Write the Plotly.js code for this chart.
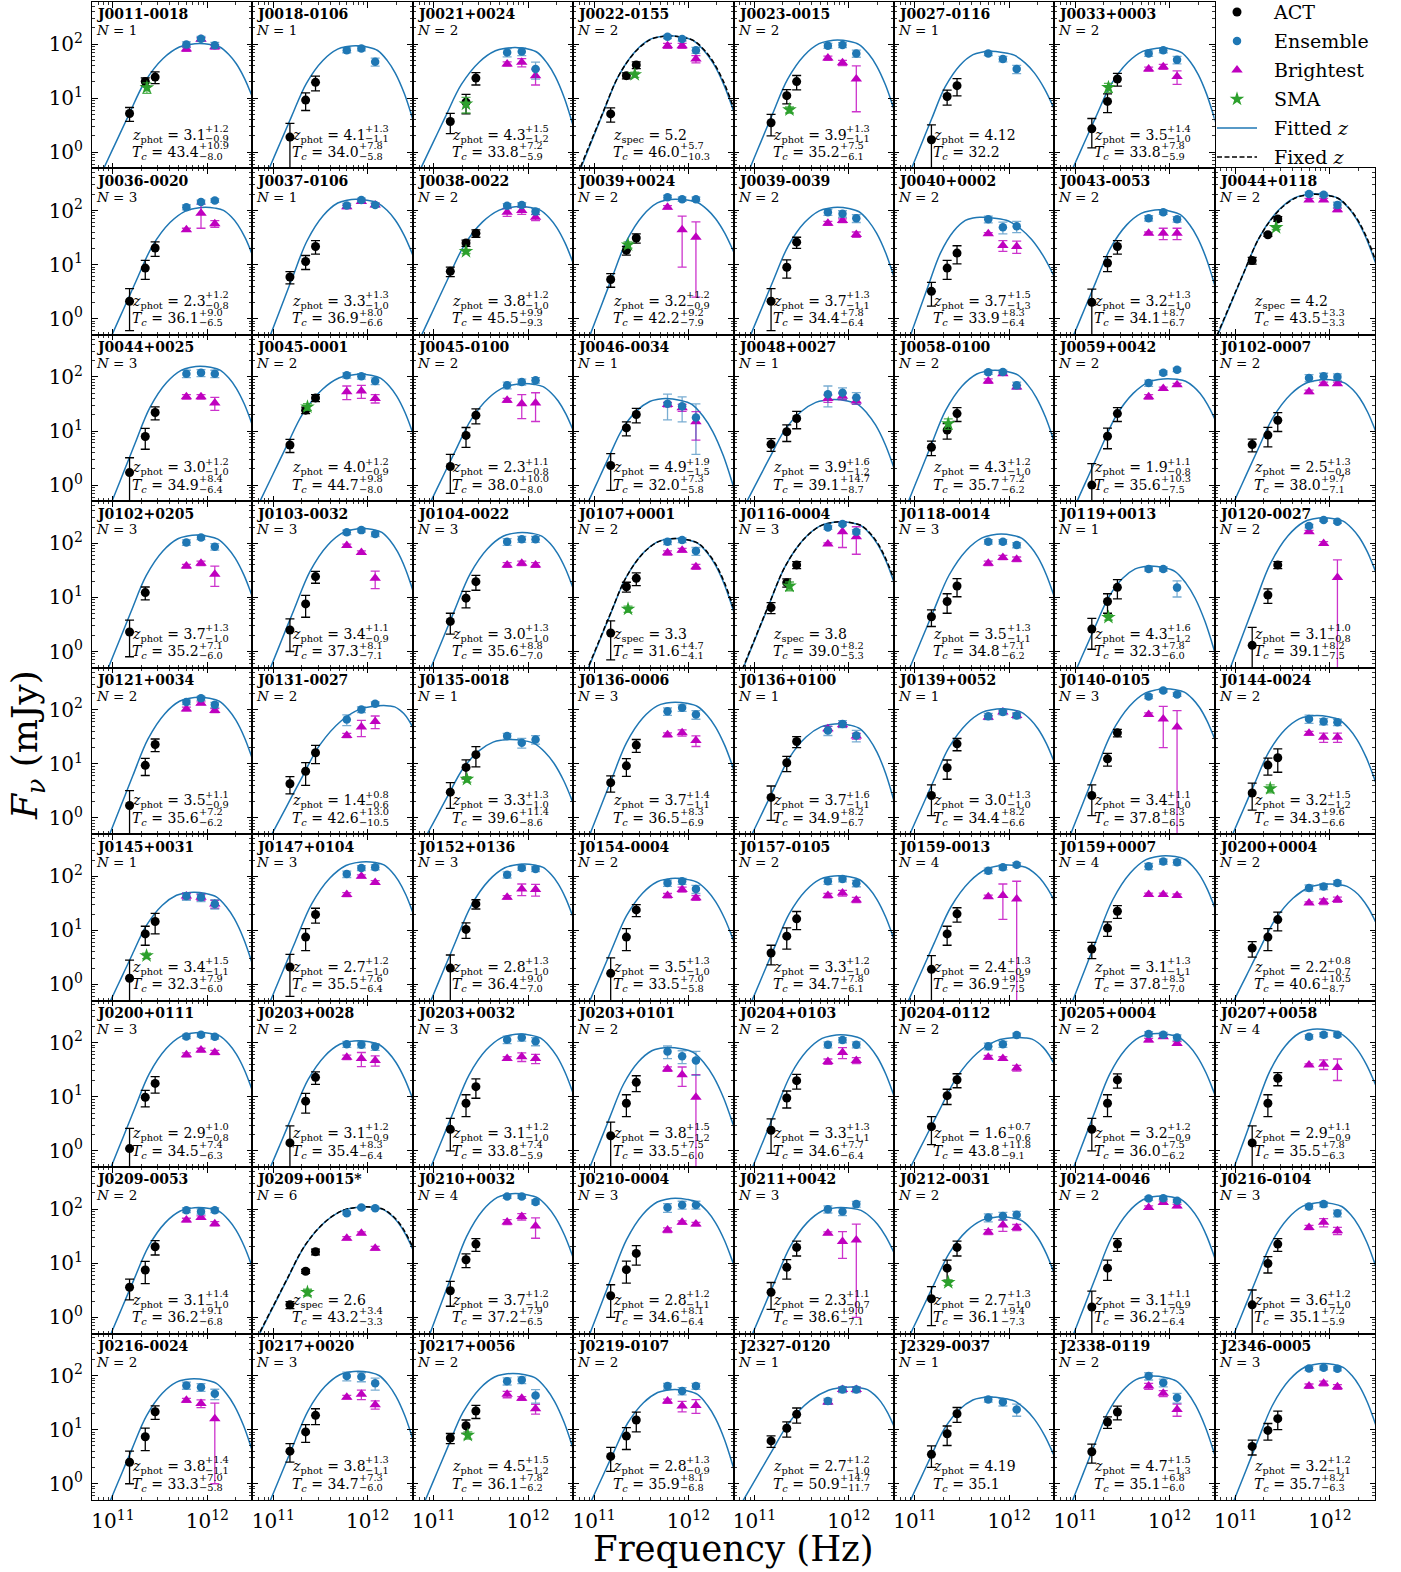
<!DOCTYPE html>
<html><head><meta charset="utf-8">
<script src="https://cdn.plot.ly/plotly-3.0.1.min.js"></script>
<style>body{margin:0;background:#fff}#chart{width:1401px;height:1572px}</style>
</head><body><div id="chart"></div>
<script>
// ---------------- DATA ----------------
const names = [
 'J0011-0018','J0018-0106','J0021+0024','J0022-0155','J0023-0015','J0027-0116','J0033+0003',
 'J0036-0020','J0037-0106','J0038-0022','J0039+0024','J0039-0039','J0040+0002','J0043-0053','J0044+0118',
 'J0044+0025','J0045-0001','J0045-0100','J0046-0034','J0048+0027','J0058-0100','J0059+0042','J0102-0007',
 'J0102+0205','J0103-0032','J0104-0022','J0107+0001','J0116-0004','J0118-0014','J0119+0013','J0120-0027',
 'J0121+0034','J0131-0027','J0135-0018','J0136-0006','J0136+0100','J0139+0052','J0140-0105','J0144-0024',
 'J0145+0031','J0147+0104','J0152+0136','J0154-0004','J0157-0105','J0159-0013','J0159+0007','J0200+0004',
 'J0200+0111','J0203+0028','J0203+0032','J0203+0101','J0204+0103','J0204-0112','J0205+0004','J0207+0058',
 'J0209-0053','J0209+0015*','J0210+0032','J0210-0004','J0211+0042','J0212-0031','J0214-0046','J0216-0104',
 'J0216-0024','J0217+0020','J0217+0056','J0219-0107','J2327-0120','J2329-0037','J2338-0119','J2346-0005'];
const nSources = [1,1,2,2,2,1,2, 3,1,2,2,2,2,2,2, 3,2,2,1,1,2,2,2, 3,3,3,2,3,3,1,2,
 2,2,1,3,1,1,3,2, 1,3,3,2,2,4,4,2, 3,2,3,2,2,2,2,4, 2,6,4,3,3,2,2,3, 2,3,2,2,1,1,2,3];
const specPanels = ['J0022-0155','J0044+0118','J0107+0001','J0116-0004','J0209+0015*'];
const zVal = ['3.1','4.1','4.3','5.2','3.9','4.12','3.5',
 '2.3','3.3','3.8','3.2','3.7','3.7','3.2','4.2',
 '3.0','4.0','2.3','4.9','3.9','4.3','1.9','2.5',
 '3.7','3.4','3.0','3.3','3.8','3.5','4.3','3.1',
 '3.5','1.4','3.3','3.7','3.7','3.0','3.4','3.2',
 '3.4','2.7','2.8','3.5','3.3','2.4','3.1','2.2',
 '2.9','3.1','3.1','3.8','3.3','1.6','3.2','2.9',
 '3.1','2.6','3.7','2.8','2.3','2.7','3.1','3.6',
 '3.8','3.8','4.5','2.8','2.7','4.19','4.7','3.2'];
const zUp = ['1.2','1.3','1.5','','1.3','','1.4',
 '1.2','1.3','1.2','1.2','1.3','1.5','1.3','',
 '1.2','1.2','1.1','1.9','1.6','1.2','1.1','1.3',
 '1.3','1.1','1.3','','','1.3','1.6','1.0',
 '1.1','0.8','1.3','1.4','1.6','1.3','1.1','1.5',
 '1.5','1.2','1.3','1.3','1.2','1.3','1.3','0.8',
 '1.0','1.2','1.2','1.5','1.3','0.7','1.2','1.1',
 '1.4','','1.2','1.2','1.1','1.3','1.1','1.2',
 '1.4','1.3','1.5','1.3','1.2','','1.5','1.2'];
const zLo = ['0.9','1.1','1.2','','1.1','','1.0',
 '0.8','1.0','1.0','0.9','1.1','1.3','1.0','',
 '1.0','0.9','0.8','1.5','1.2','1.0','0.8','0.8',
 '1.0','0.9','1.0','','','1.1','1.2','0.8',
 '0.9','0.6','1.0','1.1','1.1','1.0','1.0','1.2',
 '1.1','1.0','1.0','1.0','1.0','0.9','1.1','0.7',
 '0.8','0.9','1.0','1.2','1.1','0.6','0.9','0.9',
 '1.0','','1.0','1.1','0.7','1.0','0.9','1.0',
 '1.1','1.1','1.2','0.9','1.0','','1.3','1.1'];
const tcVal = ['43.4','34.0','33.8','46.0','35.2','32.2','33.8',
 '36.1','36.9','45.5','42.2','34.4','33.9','34.1','43.5',
 '34.9','44.7','38.0','32.0','39.1','35.7','35.6','38.0',
 '35.2','37.3','35.6','31.6','39.0','34.8','32.3','39.1',
 '35.6','42.6','39.6','36.5','34.9','34.4','37.8','34.3',
 '32.3','35.5','36.4','33.5','34.7','36.9','37.8','40.6',
 '34.5','35.4','33.8','33.5','34.6','43.8','36.0','35.5',
 '36.2','43.2','37.2','34.6','38.6','36.1','36.2','35.1',
 '33.3','34.7','36.1','35.9','50.9','35.1','35.1','35.7'];
const tcUp = ['10.9','7.8','7.2','5.7','7.5','','7.8',
 '9.0','8.0','9.9','9.2','7.8','8.3','8.7','3.3',
 '8.4','9.8','10.0','7.3','14.7','7.2','10.3','9.7',
 '7.1','8.1','8.8','4.7','8.2','7.1','7.8','8.2',
 '7.2','13.0','11.4','8.3','8.2','8.2','8.3','9.6',
 '7.9','7.6','9.0','7.0','7.8','9.5','8.5','10.5',
 '7.4','8.3','7.4','7.5','7.7','11.8','7.5','7.8',
 '9.1','3.4','7.9','8.1','9.0','9.4','7.5','7.2',
 '7.0','7.3','7.8','8.1','14.7','','6.8','8.2'];
const tcLo = ['8.0','5.8','5.9','10.3','6.1','','5.9',
 '6.5','6.6','9.3','7.9','6.4','6.4','6.7','3.3',
 '6.4','8.0','8.0','5.8','8.7','6.2','7.5','7.1',
 '6.0','7.1','7.0','4.1','5.3','6.2','6.0','7.5',
 '6.2','10.5','8.6','6.9','6.7','6.6','6.5','6.6',
 '6.0','6.4','7.0','5.8','6.1','7.5','7.0','8.7',
 '6.3','6.4','5.9','6.0','6.4','9.1','6.2','6.3',
 '6.8','3.3','6.5','6.4','7.1','7.3','6.4','5.9',
 '5.8','6.0','6.2','6.8','11.7','','6.0','6.3'];

const actFreqGHz = [150, 220, 280];
const spireFreqGHz = [600, 857, 1200];
const actFlux = [
 [5.2,20.3,24.5],[1.9,9.2,19.6],[3.7,8.4,23.5],[5.1,26,41],[3.5,11.1,20.2],[1.7,10.7,17],[2.7,8.7,22.6],
 [2.1,8.6,20.2],[5.9,11.4,21.6],[7.5,25,38],[5.3,18.3,31],[2.1,8.9,26],[3.2,8.6,16.3],[2.0,10.7,21.6],[11.9,35.6,70],
 [1.7,7.9,22],[5.5,24.3,41],[2.2,8.3,19.6],[2.3,11.4,20.2],[5.7,9.7,17],[5.0,10.4,21],[1.0,8.0,21],[5.6,8.4,15.8],
 [2.3,12.3,null],[2.5,7.6,24.3],[3.6,9.7,19.6],[2.2,15.8,22.6],[6.5,18.8,40],[4.4,8.4,16.3],[2.6,8.4,15.4],[1.3,11.1,40],
 [1.7,9.4,22.9],[4.3,7.3,16.1],[3.0,8.6,14.8],[4.5,9.2,22.3],[2.4,10.5,26],[2.6,8.5,23.5],[2.6,12.4,37.6],[2.9,9.5,13],
 [1.3,8.6,14.6],[2.1,7.5,19.6],[2.0,10.4,30.8],[1.6,7.5,23.9],[3.8,7.8,16.3],[1.9,8.6,20.2],[4.5,11,22.6],[4.7,7.5,15.8],
 [1.1,9.8,17.7],[1.4,8.3,22.9],[2.5,7.6,15.4],[1.9,7.6,18.5],[2.4,9.5,19.9],[2.8,10.5,20.7],[2.5,7.6,20.5],[1.4,7.6,22],
 [3.6,7.5,20.2],[1.7,7.1,16.3],[3.1,11.6,22.6],[2.5,7.6,15.2],[2.9,8.4,19.6],[2.2,8.1,19.6],[1.55,8.1,22.6],[1.7,9.9,22.6],
 [2.5,7.4,21.5],[4.0,9.1,18.4],[7.0,11.8,22.1],[3.2,7.6,15.1],[6.2,10.6,19.2],[3.5,8.4,19.7],[3.9,13.9,21.2],[4.9,9.7,16]];
const actErrTypical = [1.5, 3.3, 6.0];
const actErrSpecial = {'J0209+0015*':[0.25,0.6,2.0], 'J0044+0118':[1.7,2.5,7.0]};

const ensFlux = [
 [98,126,95],[77,83,47],[70,73,34.5],[136,124,77],[93,96,67],[67,53,34.5],[67,77,51],
 [115,143,153],[124,157,127],[122,127,96],[176,162,162],[93,87,72],[69,49,51],[72,93,69],[203,195,127],
 [115,119,115],[107,103,84],[70,81,87],[32,28.7,17.7],[48,51,41.5],[122,124,70],[77,119,136],[96,103,100],
 [104,129,87],[160,176,149],[107,119,119],[107,115,72],[197,228,164],[107,107,93],[33.6,33.6,15.2],[209,270,251],
 [139,164,124],[66,101,129],[32.7,24.6,28.3],[94,109,82],[41.5,55,33.6],[76,91,79],[176,228,192],[68,61,59],
 [43,41,30.8],[110,143,147],[107,143,136],[75,81,58],[81,89,74],[127,147,164],[153,187,181],[61,65,75],
 [131,140,129],[94,92,84],[114,125,106],[69,56,47],[92,112,92],[86,94,139],[145,141,125],[129,141,141],
 [96,91,96],[84,107,104],[171,171,136],[107,120,120],[100,91,124],[70,75,79],[157,160,143],[112,124,84],
 [66,61,46],[98,95,72],[79,83,43],[64,52,64],[33.8,55.6,55.6],[36.3,32.4,23.7],[98,74,39],[136,140,134]];
const ensErr = [
 12,8,12,10,10,6,8,
 12,12,12,15,12,[10,12,12],8,15,
 18,12,10,[16,14,14],[20,12,10],10,10,14,
 12,15,15,12,15,10,[3,3,5],15,
 14,[15,12,12],[4,5,5],15,8,10,15,[12,8,8],
 [7,7,6],15,14,10,10,15,20,8,
 12,12,18,[18,15,22],12,12,15,12,
 10,5,12,20,15,12,[12,10,10],12,
 10,18,12,8,[4,7,7],[4,5,6],[15,12,8],12];

const brightFlux = [
 [81,123,89],null,[43,46,26],[93,93,53],[55,45,22.6],null,[34.5,38,25],
 [44,89,57],[117,147,127],[93,100,75],[115,44,32],[58,65,36],[37,22.6,21.6],[38,38,38],[157,157,103],
 [43,43,33],[53,55,40],[37,32,33],[31,27,14.8],[40,44,36],[84,115,65],[43,61,72],[53,75,75],
 [38,43,27],[91,68,22.6],[40,43,40],[67,75,37],[97,164,133],[43,55,51],null,[164,100,23.5],
 [104,133,97],[33.6,48,61],null,[34.5,37.6,27],[44.6,53,32.7],[73,91,79],[82,68,48],[37,31,31],
 [43,41,30.8],[46,100,77],[41,58,57],[44,57,40],[44,49,36.6],[42,44,38],[46,46,44],[32,34,37],
 [60,73,66],[54,51,47],[51,55,51],[32.7,25.6,9.8],[45,66,47],[54,51,34],[112,129,97],[38.7,40,35],
 [63,70,54],[29,36,19],[58,73,49],[41,57,53],[36,25.3,27],[38,51,46],[107,133,115],[46,57,40],
 [35,30.6,16],[40,45,29],[45,38,24.4],[33.8,27.3,28],[32.4,55.6,55.6],null,[64,47,23.7],[64,72,62]];
const brightErr = [
 [8,8,8],null,[4,8,8.5],[10,10,8],[5,5,17],null,[3,4,7],
 [3,42,8],[8,8,8],[15,15,10],[8,35,29.5],[5,5,4],[2,5,5.5],[2,9,9],[10,10,8],
 [4,4,9],[15,15,7],[3,15,18],[3,4,8],[6,6,5],[8,8,5],[4,4,4],[4,5,5],
 [3,4,11],[6,5,8],[4,4,4],[6,6,4],[5,80,70],[4,5,5],null,[10,8,26],
 [8,8,8],[3,16,16],null,[3,5,6],[5,5,4],[5,5,5],[6,48,49],[3,6,6],
 [5,5,5],[4,6,6],[3,14,14],[4,6,4],[4,6,4],[3,28,43],[3,3,3],[1.5,4,4],
 [5,6,6],[5,15,10],[4,10,10],[3,10,16],[5,15,6],[4,4,4],[8,8,8],[2,8,15],
 [5,5,5],[2,2,1.5],[6,10,20],[4,4,4],[2,13,26],[4,12,6],[8,8,8],[4,10,6],
 [3,5,15],[3,9,5],[6,3,5],[3,6,8],[3,5,5],null,[8,6,6],[6,7,6]];

const smaPanels = ['J0011-0018','J0021+0024','J0022-0155','J0023-0015','J0033+0003','J0038-0022','J0039+0024',
 'J0044+0118','J0045-0001','J0058-0100','J0107+0001','J0116-0004','J0119+0013','J0135-0018','J0144-0024',
 'J0145+0031','J0209+0015*','J0212-0031','J0217+0056'];
const smaFreqGHz = [229,220,270,235,225,220,229,269,230,226,229,235,225,225,233,227,230,226,230];
const smaFlux = [15.7,7.8,27.2,6.1,15.8,17.5,23.2,48.5,28,13.7,6.1,16.3,4.3,5.2,3.5,3.4,2.9,4.4,7.9];
const smaErr = [3.5,2.5,3,0.8,3,1.5,3,4,4,3,0.8,3,0.5,0.6,0.6,0.4,0.4,0.5,1.2];

// Fitted-z curves: per panel, log10 frequency where the curve leaves the bottom of the panel,
// log10 frequency / log10 flux of the peak, and log10 flux at the right edge of the panel.
const curveCrossLogNu = [10.902,10.956,10.863,10.858,10.951,10.965,10.974,
 10.99,10.97,10.873,10.958,10.96,10.955,10.985,10.811,
 10.99,10.858,10.97,10.941,10.92,10.933,11.019,10.985,
 10.951,10.97,10.97,10.941,10.883,10.947,11.019,10.945,
 10.965,10.985,10.931,10.956,10.974,10.947,10.951,10.969,
 10.975,10.97,10.97,10.956,10.974,10.933,10.974,10.982,
 10.98,10.97,10.97,10.956,10.981,10.955,10.985,10.985,
 10.98,10.855,10.961,10.956,10.981,10.955,10.985,10.985,
 10.975,10.97,10.912,10.975,10.884,10.955,10.974,10.985];
const curvePeakLogNu = [11.917,11.874,11.864,11.786,11.88,11.79,11.912,
 11.981,11.872,11.913,11.86,11.88,11.69,11.889,11.84,
 11.923,11.923,11.962,11.762,11.844,11.849,11.979,11.952,
 11.884,11.947,11.938,11.859,11.912,11.916,11.8,11.93,
 11.908,12.167,11.815,11.859,11.898,11.916,11.957,11.862,
 11.859,11.982,11.962,11.859,11.89,11.984,11.957,11.997,
 11.923,11.899,11.913,11.786,11.912,12.096,11.867,11.862,
 11.908,11.972,11.864,11.859,11.912,11.916,11.912,11.907,
 11.859,11.899,11.84,11.859,12.024,11.79,11.822,11.93];
const curvePeakLogF = [2.01,1.969,1.938,2.154,2.074,1.865,1.926,
 2.06,2.209,2.074,2.21,2.06,1.877,2.012,2.308,
 2.197,2.05,1.877,1.6,1.582,2.123,1.969,1.951,
 2.154,2.277,2.203,2.092,2.4,2.172,1.582,2.474,
 2.234,2.08,1.452,2.142,1.742,2.018,2.388,1.895,
 1.705,2.271,2.228,1.963,2.012,2.209,2.382,1.858,
 2.191,2.037,2.16,1.914,2.148,2.098,2.172,2.252,
 2.031,2.043,2.289,2.203,2.031,1.858,2.246,2.123,
 1.942,2.083,2.04,1.745,1.788,1.603,1.991,2.225];
const curveEdgeLogF = [1.02,0.615,0.49,0.77,0.80,0.80,0.615,
 1.18,1.18,1.03,1.243,0.78,0.78,0.628,1.06,
 1.108,0.969,1.015,-0.03,0.326,0.80,1.23,1.028,
 1.015,1.138,1.17,0.754,1.292,1.015,0.0,1.51,
 1.095,1.68,0.277,0.911,0.326,1.034,1.465,0.695,
 0.382,1.335,1.243,0.812,0.843,1.551,1.428,1.181,
 1.114,0.96,1.065,0.468,1.022,1.606,1.052,1.249,
 0.923,1.262,1.108,0.985,1.2,0.812,1.108,0.985,
 0.606,0.834,0.649,0.298,1.068,0.514,0.545,1.129];
// Fixed-z (dashed) curves for the spectroscopic panels: [cross, peakNu, peakF, edgeF]
const fixedPanels = ['J0022-0155','J0044+0118','J0107+0001','J0116-0004','J0209+0015*'];
const fixedCrossLogNu = [10.85, 10.805, 10.935, 10.878, 10.85];
const fixedPeakLogNu = [11.795, 11.848, 11.866, 11.918, 11.976];
const fixedPeakLogF = [2.15, 2.30, 2.09, 2.40, 2.045];
const fixedEdgeLogF = [0.83, 1.11, 0.81, 1.34, 1.30];
// Shape of the fitted curve as read from panel J0011-0018, normalised between
// bottom-crossing / peak (rising side) and peak / right edge (falling side).
const riseU = [-1.15,-1.0,-0.87,-0.74,-0.57,-0.38,-0.21,-0.1,0];
const riseV = [-1.25,-1.0,-0.787,-0.574,-0.306,-0.12,-0.028,-0.007,0];
const fallW = [0.2,0.383,0.55,0.693,0.85,1.0,1.1];
const fallV = [-0.018,-0.065,-0.2,-0.374,-0.65,-1.0,-1.25];

// ---------------- LAYOUT ----------------
const FONT = 'DejaVu Serif';
const W = 1401, H = 1572, PL = 92, PR = 1375, PT = 2, PB = 1500;
const xLog = [Math.log10(6e10), Math.log10(3e12)];
const yLog = [Math.log10(0.5), Math.log10(600)];
const C_ENS = '#1f77b4', C_BR = '#bf00bf', C_SMA = '#2ca02c';

const traces = [];
const annotations = [];
const layout = {
  width: W, height: H, margin: {l: PL, r: W - PR, t: PT, b: H - PB, pad: 0, autoexpand: false},
  paper_bgcolor: '#fff', plot_bgcolor: '#fff', hovermode: false, showlegend: true,
  font: {family: FONT, color: '#000'},
  legend: {x: (1212 - PL) / (PR - PL), xanchor: 'left', y: 1 + 8.8 / (PB - PT), yanchor: 'top',
    font: {family: FONT, size: 19, color: '#000'}, bgcolor: 'rgba(0,0,0,0)', borderwidth: 0,
    traceorder: 'grouped', tracegroupgap: 1.3, itemwidth: 40},
  annotations: annotations
};
const minorX = [7e10,8e10,9e10,2e11,3e11,4e11,5e11,6e11,7e11,8e11,9e11,2e12];
const minorY = [0.6,0.7,0.8,0.9,2,3,4,5,6,7,8,9,20,30,40,50,60,70,80,90,200,300,400,500];

const ctx = document.createElement('canvas').getContext('2d');
function tw(t, size, style) { ctx.font = (style || '') + ' ' + size + 'px "' + FONT + '"'; return ctx.measureText(t).width; }
const ASC = 0.928;
function addText(xa, ya, px, base, html, size) {
  annotations.push({xref: xa + ' domain', yref: ya + ' domain', x: 0, y: 1, xanchor: 'left', yanchor: 'top',
    xshift: px, yshift: -(base - ASC * size), text: html, showarrow: false, borderpad: 0, borderwidth: 0,
    align: 'left', font: {family: FONT, size: size, color: '#000'}});
}
function curveXY(xc, xp, yp, yr) {
  const xs = [], ys = [];
  for (let i = 0; i < riseU.length; i++) { xs.push(xp + riseU[i] * (xp - xc)); ys.push(yp + riseV[i] * (yp - yLog[0])); }
  for (let i = 0; i < fallW.length; i++) { xs.push(xp + fallW[i] * (xLog[1] - xp)); ys.push(yp + fallV[i] * (yp - yr)); }
  return {x: xs.map(v => Math.pow(10, v)), y: ys.map(v => Math.pow(10, v))};
}
const shown = {};
function leg(key) { if (shown[key]) return false; shown[key] = true; return true; }
const rank = {act: 1, ens: 2, br: 3, sma: 4, fit: 5, fix: 6};

for (let p = 0; p < names.length; p++) {
  const g = p < 7 ? p : p + 1;
  const r = Math.floor(g / 8), c = g % 8;
  const k = p + 1;
  const xa = k === 1 ? 'x' : 'x' + k, ya = k === 1 ? 'y' : 'y' + k;
  const common = {showline: true, linecolor: '#000', linewidth: 1, mirror: 'allticks', ticks: 'inside',
    ticklen: 5.5, tickwidth: 1, tickcolor: '#000', showgrid: false, zeroline: false, type: 'log',
    tickfont: {family: FONT, size: 20, color: '#000'},
    minor: {ticks: 'inside', ticklen: 3, tickwidth: 0.8, tickcolor: '#000', showgrid: false}};
  layout[k === 1 ? 'xaxis' : 'xaxis' + k] = Object.assign({}, common, {
    domain: [c / 8, (c + 1) / 8], anchor: ya, range: xLog,
    tickmode: 'array', tickvals: [1e11, 1e12], ticktext: ['10<sup>11</sup>', '10<sup>12</sup>'],
    showticklabels: r === 8, ticklabelstandoff: 3,
    minor: Object.assign({}, common.minor, {tickmode: 'array', tickvals: minorX})});
  layout[k === 1 ? 'yaxis' : 'yaxis' + k] = Object.assign({}, common, {
    domain: [1 - (r + 1) / 9, 1 - r / 9], anchor: xa, range: yLog,
    tickmode: 'array', tickvals: [1, 10, 100], ticktext: ['10<sup>0</sup>', '10<sup>1</sup>', '10<sup>2</sup>'],
    showticklabels: c === 0, ticklabelstandoff: 4,
    minor: Object.assign({}, common.minor, {tickmode: 'array', tickvals: minorY})});

  const name = names[p];
  // fitted curve
  const cv = curveXY(curveCrossLogNu[p], curvePeakLogNu[p], curvePeakLogF[p], curveEdgeLogF[p]);
  traces.push({type: 'scatter', mode: 'lines', x: cv.x, y: cv.y, xaxis: xa, yaxis: ya,
    line: {color: C_ENS, width: 1.5, shape: 'spline', smoothing: 1},
    name: '\u00a0\u00a0Fitted <i>z</i>', legendgroup: 'fit', legendrank: rank.fit, showlegend: leg('fit')});
  const fi = fixedPanels.indexOf(name);
  if (fi >= 0) {
    const fv = curveXY(fixedCrossLogNu[fi], fixedPeakLogNu[fi], fixedPeakLogF[fi], fixedEdgeLogF[fi]);
    traces.push({type: 'scatter', mode: 'lines', x: fv.x, y: fv.y, xaxis: xa, yaxis: ya,
      line: {color: '#000', width: 1.5, dash: '5px,2.5px', shape: 'spline', smoothing: 1},
      name: '\u00a0\u00a0Fixed <i>z</i>', legendgroup: 'fix', legendrank: rank.fix, showlegend: leg('fix')});
  }
  // ACT
  const ae = actErrSpecial[name] || actErrTypical;
  const ax = [], ay = [], aer = [];
  actFlux[p].forEach((v, i) => { if (v != null) { ax.push(actFreqGHz[i] * 1e9); ay.push(v); aer.push(ae[i]); } });
  traces.push({type: 'scatter', mode: 'markers', x: ax, y: ay, xaxis: xa, yaxis: ya,
    marker: {color: '#000', size: 9, symbol: 'circle'},
    error_y: {type: 'data', array: aer, visible: true, color: '#000', thickness: 1.3, width: 4.5},
    name: '\u00a0\u00a0ACT', legendgroup: 'act', legendrank: rank.act, showlegend: leg('act')});
  // Brightest
  if (brightFlux[p]) {
    traces.push({type: 'scatter', mode: 'markers', x: spireFreqGHz.map(f => f * 1e9), y: brightFlux[p], xaxis: xa, yaxis: ya,
      marker: {color: C_BR, size: 10, symbol: 'triangle-up'},
      error_y: {type: 'data', array: brightErr[p], visible: true, color: 'rgba(191,0,191,0.8)', thickness: 1.3, width: 4.5},
      name: '\u00a0\u00a0Brightest', legendgroup: 'br', legendrank: rank.br, showlegend: leg('br')});
  }
  // Ensemble
  const ee = Array.isArray(ensErr[p]) ? ensErr[p] : [ensErr[p], ensErr[p], ensErr[p]];
  traces.push({type: 'scatter', mode: 'markers', x: spireFreqGHz.map(f => f * 1e9), y: ensFlux[p], xaxis: xa, yaxis: ya,
    marker: {color: C_ENS, size: 8.5, symbol: 'circle'},
    error_y: {type: 'data', array: ee, visible: true, color: 'rgba(31,119,180,0.6)', thickness: 1.3, width: 4.5},
    name: '\u00a0\u00a0Ensemble', legendgroup: 'ens', legendrank: rank.ens, showlegend: leg('ens')});
  // SMA
  const si = smaPanels.indexOf(name);
  if (si >= 0) {
    traces.push({type: 'scatter', mode: 'markers', x: [smaFreqGHz[si] * 1e9], y: [smaFlux[si]], xaxis: xa, yaxis: ya,
      marker: {color: C_SMA, size: 11, symbol: 'star'},
      error_y: {type: 'data', array: [smaErr[si]], visible: true, color: 'rgba(44,160,44,0.8)', thickness: 1.3, width: 4.5},
      name: '\u00a0\u00a0SMA', legendgroup: 'sma', legendrank: rank.sma, showlegend: leg('sma')});
  }
  // texts
  addText(xa, ya, 4, 17.3, '<b>' + name + '</b>', 14);
  addText(xa, ya, 4, 32.6, '<i>N</i> = ' + nSources[p], 13.5);
  const kind = specPanels.indexOf(name) >= 0 ? 'spec' : 'phot';
  const X0 = 39.5, ZB = 137.5, TB = 155, MS = 14, SS = 9.8;
  addText(xa, ya, X0, ZB, '<i>z</i><sub>' + kind + '</sub> = ' + zVal[p], MS);
  if (zUp[p]) {
    const w = tw('z', MS, 'italic') + tw(kind, SS) + tw(' = ' + zVal[p], MS);
    addText(xa, ya, X0 + w + 0.5, ZB - 7.6, '+' + zUp[p], SS);
    addText(xa, ya, X0 + w + 0.5, ZB + 3.0, '\u2212' + zLo[p], SS);
  }
  addText(xa, ya, X0, TB, '<i>T</i><sub><i>c</i></sub> = ' + tcVal[p], MS);
  if (tcUp[p]) {
    const w = tw('T', MS, 'italic') + tw('c', SS, 'italic') + tw(' = ' + tcVal[p], MS);
    addText(xa, ya, X0 + w + 0.5, TB - 7.6, '+' + tcUp[p], SS);
    addText(xa, ya, X0 + w + 0.5, TB + 3.0, '\u2212' + tcLo[p], SS);
  }
}
// axis titles
annotations.push({xref: 'paper', yref: 'paper', x: (733 - PL) / (PR - PL), y: (PB - (1561 - ASC * 35.5)) / (PB - PT),
  xanchor: 'center', yanchor: 'top', text: 'Frequency (Hz)', showarrow: false, borderpad: 0, borderwidth: 0,
  font: {family: FONT, size: 35.5, color: '#000'}});
annotations.push({xref: 'paper', yref: 'paper', x: (28 - PL) / (PR - PL), y: (PB - 745) / (PB - PT),
  xanchor: 'center', yanchor: 'middle', textangle: -90, text: '<i>F</i><sub><i>\u03bd</i></sub> (mJy)',
  showarrow: false, borderpad: 0, borderwidth: 0, font: {family: FONT, size: 36, color: '#000'}});

Plotly.newPlot('chart', traces, layout, {staticPlot: true, displayModeBar: false});
</script></body></html>
